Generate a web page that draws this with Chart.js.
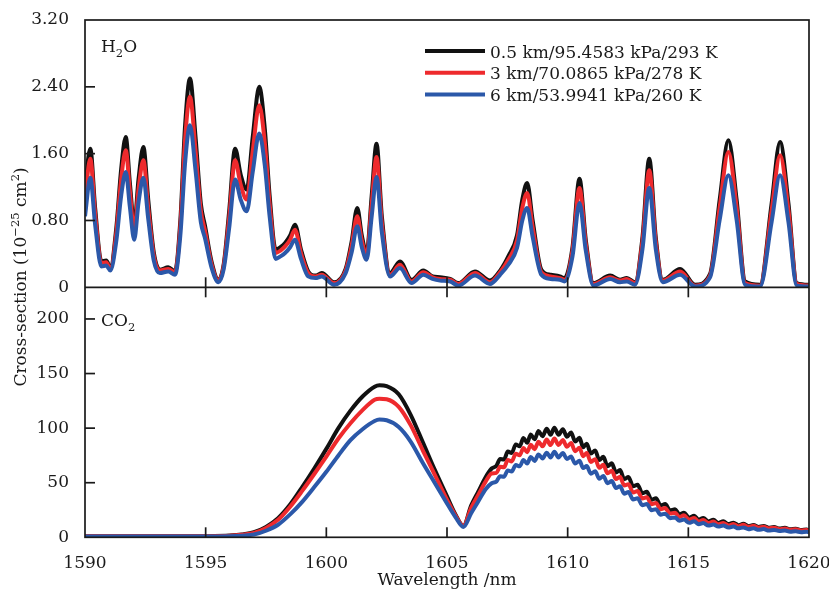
<!DOCTYPE html>
<html>
<head>
<meta charset="utf-8">
<title>Absorption cross-sections of H2O and CO2</title>
<script src="https://cdn.jsdelivr.net/npm/chart.js@4.4.1/dist/chart.umd.min.js"></script>
<style>
  html, body { margin: 0; padding: 0; background: #fff; }
  #box { width: 829px; height: 594px; }
</style>
</head>
<body>
<div id="box"><canvas id="chart" width="829" height="594"></canvas></div>
<script>
// altitude / pressure / temperature profiles
const profiles = ['0.5 km/95.4583 kPa/293 K', '3 km/70.0865 kPa/278 K', '6 km/53.9941 kPa/260 K'];
const profileColors = ['#111111', '#ee2a2d', '#2b58a9'];

const xTicks = [1590, 1595, 1600, 1605, 1610, 1615, 1620];
const h2oTicks = [0, 0.8, 1.6, 2.4, 3.2];
const co2Ticks = [0, 50, 100, 150, 200];

// H2O, 10^-25 cm^2
const h2oWavelength = [
    1590.00, 1590.22, 1590.42, 1590.68, 1590.88, 1591.05, 1591.30, 1591.50, 1591.69, 1591.86,
    1592.04, 1592.22, 1592.42, 1592.62, 1592.85, 1593.10, 1593.45, 1593.73, 1593.95, 1594.15,
    1594.35, 1594.58, 1594.80, 1594.97, 1595.25, 1595.53, 1595.75, 1595.97, 1596.22, 1596.45,
    1596.70, 1596.95, 1597.22, 1597.45, 1597.65, 1597.90, 1598.10, 1598.29, 1598.50, 1598.70,
    1598.95, 1599.25, 1599.55, 1599.81, 1600.32, 1600.80, 1601.05, 1601.28, 1601.47, 1601.67,
    1601.88, 1602.08, 1602.30, 1602.64, 1603.05, 1603.53, 1604.02, 1604.40, 1604.71, 1605.13,
    1605.47, 1606.16, 1606.78, 1607.20, 1607.54, 1607.90, 1608.12, 1608.32, 1608.55, 1608.91,
    1609.30, 1609.68, 1609.87, 1610.20, 1610.49, 1610.75, 1611.07, 1611.76, 1612.17, 1612.45,
    1612.79, 1613.10, 1613.38, 1613.65, 1613.94, 1614.66, 1615.28, 1615.90, 1616.30, 1616.66,
    1617.00, 1617.35, 1617.97, 1618.45, 1618.80, 1619.15, 1619.49, 1620.00
];
const h2oLow = [
    1.20, 1.66, 0.95, 0.31, 0.32, 0.24, 0.72, 1.42, 1.80, 1.25,
    0.75, 1.30, 1.68, 1.05, 0.42, 0.21, 0.24, 0.19, 0.80, 1.95,
    2.50, 1.80, 1.00, 0.74, 0.30, 0.09, 0.28, 0.90, 1.66, 1.35,
    1.17, 1.80, 2.40, 1.90, 1.10, 0.45, 0.48, 0.53, 0.62, 0.75,
    0.45, 0.19, 0.14, 0.17, 0.06, 0.22, 0.55, 0.95, 0.62, 0.41,
    1.10, 1.72, 0.85, 0.17, 0.31, 0.09, 0.20, 0.13, 0.12, 0.10,
    0.05, 0.19, 0.08, 0.20, 0.37, 0.62, 1.05, 1.25, 0.80, 0.21,
    0.15, 0.13, 0.11, 0.48, 1.30, 0.57, 0.05, 0.14, 0.09, 0.11,
    0.06, 0.60, 1.54, 0.60, 0.09, 0.22, 0.03, 0.16, 1.05, 1.76,
    1.05, 0.07, 0.03, 1.00, 1.74, 1.00, 0.05, 0.03
];
const h2oMid = [
    1.05, 1.54, 0.88, 0.29, 0.30, 0.22, 0.66, 1.30, 1.64, 1.15,
    0.68, 1.18, 1.52, 0.95, 0.38, 0.20, 0.22, 0.18, 0.73, 1.78,
    2.28, 1.64, 0.92, 0.68, 0.27, 0.08, 0.26, 0.82, 1.52, 1.23,
    1.05, 1.63, 2.18, 1.73, 1.00, 0.41, 0.44, 0.49, 0.57, 0.69,
    0.41, 0.17, 0.13, 0.15, 0.05, 0.20, 0.50, 0.85, 0.56, 0.38,
    1.00, 1.56, 0.77, 0.15, 0.27, 0.07, 0.18, 0.12, 0.10, 0.09,
    0.04, 0.17, 0.06, 0.18, 0.33, 0.56, 0.95, 1.13, 0.72, 0.18,
    0.13, 0.11, 0.09, 0.44, 1.19, 0.52, 0.04, 0.12, 0.08, 0.10,
    0.05, 0.55, 1.40, 0.55, 0.08, 0.19, 0.02, 0.14, 0.96, 1.62,
    0.96, 0.05, 0.02, 0.92, 1.58, 0.92, 0.04, 0.02
];
const h2oHigh = [
    0.85, 1.31, 0.75, 0.25, 0.26, 0.20, 0.56, 1.10, 1.38, 0.96,
    0.57, 1.02, 1.31, 0.82, 0.32, 0.17, 0.19, 0.15, 0.62, 1.50,
    1.94, 1.40, 0.78, 0.59, 0.23, 0.06, 0.22, 0.70, 1.29, 1.05,
    0.91, 1.38, 1.84, 1.46, 0.85, 0.34, 0.37, 0.41, 0.48, 0.57,
    0.34, 0.13, 0.11, 0.13, 0.03, 0.17, 0.42, 0.73, 0.48, 0.33,
    0.85, 1.32, 0.66, 0.13, 0.23, 0.05, 0.15, 0.10, 0.08, 0.07,
    0.02, 0.14, 0.04, 0.15, 0.27, 0.47, 0.80, 0.95, 0.60, 0.15,
    0.10, 0.09, 0.07, 0.37, 1.01, 0.44, 0.02, 0.10, 0.06, 0.07,
    0.03, 0.46, 1.19, 0.46, 0.06, 0.15, 0.01, 0.12, 0.81, 1.34,
    0.81, 0.03, 0.01, 0.78, 1.34, 0.78, 0.02, 0.01
];

// CO2, 10^-25 cm^2
const co2Wavelength = [
    1590.0, 1592.0, 1594.0, 1595.0, 1596.0, 1596.5, 1597.0, 1597.5, 1598.0, 1598.5,
    1599.0, 1599.5, 1600.0, 1600.5, 1601.0, 1601.5, 1602.0, 1602.2, 1602.5, 1603.0,
    1603.5, 1604.0, 1604.5, 1605.0, 1605.35, 1605.68, 1606.0, 1606.3, 1606.6, 1606.85,
    1607.05, 1607.20, 1607.36, 1607.52, 1607.68, 1607.85, 1608.01, 1608.17, 1608.32, 1608.47,
    1608.63, 1608.79, 1608.96, 1609.13, 1609.29, 1609.45, 1609.62, 1609.80, 1609.97, 1610.14,
    1610.31, 1610.49, 1610.64, 1610.79, 1610.96, 1611.14, 1611.31, 1611.48, 1611.65, 1611.83,
    1612.00, 1612.17, 1612.34, 1612.52, 1612.71, 1612.90, 1613.09, 1613.28, 1613.47, 1613.66,
    1613.85, 1614.04, 1614.24, 1614.45, 1614.63, 1614.82, 1615.03, 1615.24, 1615.43, 1615.62,
    1615.83, 1616.04, 1616.24, 1616.45, 1616.66, 1616.87, 1617.07, 1617.28, 1617.49, 1617.70,
    1617.91, 1618.12, 1618.33, 1618.55, 1618.77, 1619.00, 1619.22, 1619.45, 1619.67, 1619.90,
    1620.0
];
const co2Low = [
    1.0, 0.9, 0.9, 1.0, 1.6, 2.6, 4.6, 9.5, 17.5, 30.0,
    46.0, 63.0, 81.0, 100.0, 116.0, 129.0, 138.0, 139.3, 138.5, 131.0,
    112.0, 87.0, 61.5, 37.5, 21.0, 10.5, 29.0, 42.0, 55.0, 63.0,
    65.5, 71.8, 71.2, 78.6, 77.2, 85.0, 83.4, 90.9, 86.5, 94.2,
    89.7, 97.3, 92.6, 99.4, 93.9, 100.4, 93.9, 99.0, 92.1, 96.0,
    87.7, 91.1, 82.5, 85.8, 76.7, 79.6, 70.7, 73.8, 65.1, 67.8,
    59.3, 61.6, 53.3, 55.2, 46.7, 48.2, 40.3, 41.7, 34.4, 35.8,
    29.2, 30.4, 24.7, 25.6, 21.0, 22.5, 18.0, 19.7, 16.1, 17.7,
    14.5, 16.0, 13.2, 14.6, 12.1, 13.4, 11.1, 12.3, 10.2, 11.3,
    9.5, 10.4, 8.7, 9.5, 8.0, 8.7, 7.3, 7.9, 6.7, 7.2,
    6.6
];
const co2Mid = [
    1.0, 0.9, 0.9, 1.0, 1.4, 2.3, 4.0, 8.6, 16.0, 28.0,
    42.5, 58.0, 74.0, 90.5, 104.5, 116.5, 126.0, 127.0, 126.5, 119.5,
    102.5, 79.5, 57.0, 34.5, 20.0, 10.5, 27.0, 39.0, 51.0, 58.5,
    59.0, 64.6, 64.1, 70.7, 69.5, 76.5, 75.1, 81.8, 77.9, 84.8,
    80.7, 87.6, 83.3, 89.5, 84.5, 90.4, 84.5, 89.1, 82.9, 86.4,
    78.9, 82.0, 74.3, 77.2, 69.0, 71.6, 63.6, 66.4, 58.6, 61.0,
    53.4, 55.4, 47.5, 48.6, 41.1, 42.4, 35.5, 36.7, 30.3, 31.5,
    25.7, 26.8, 21.7, 22.5, 18.6, 20.2, 16.2, 17.7, 14.5, 15.9,
    13.1, 14.4, 11.9, 13.1, 10.9, 12.1, 10.0, 11.4, 9.5, 10.5,
    8.8, 9.7, 8.1, 8.8, 7.4, 8.1, 6.8, 7.3, 6.2, 6.7,
    6.1
];
const co2High = [
    0.8, 0.7, 0.7, 0.8, 1.0, 1.5, 2.5, 6.0, 11.5, 21.0,
    32.5, 46.0, 60.0, 75.0, 89.0, 99.0, 106.5, 107.8, 107.2, 101.0,
    87.5, 68.0, 49.5, 31.0, 18.5, 9.5, 22.0, 33.0, 44.0, 49.5,
    51.1, 56.0, 55.5, 61.3, 60.2, 66.3, 65.0, 70.9, 67.5, 73.5,
    70.0, 75.9, 72.2, 77.5, 73.2, 78.3, 73.2, 77.2, 71.8, 73.9,
    67.5, 70.1, 63.5, 65.2, 58.3, 60.5, 53.7, 56.1, 49.5, 51.5,
    45.1, 46.8, 40.0, 41.4, 34.6, 35.7, 29.4, 30.4, 24.8, 25.8,
    20.7, 21.6, 17.5, 18.2, 15.1, 16.2, 13.3, 14.6, 11.9, 13.1,
    10.7, 11.8, 9.8, 10.8, 8.9, 9.9, 8.2, 9.0, 7.4, 8.2,
    6.9, 7.5, 6.2, 6.8, 5.7, 6.2, 5.1, 5.5, 4.7, 5.0,
    4.6
];

const FONT = 'DejaVu Serif';
const INK = '#1a1a1a';
const BIG = 17;
const SMALL = 11.5;

function series(xs, ys) {
    return xs.map((x, i) => ({ x, y: ys[i] }));
}

function makeDataset(k, xs, ys, axis) {
    return {
        label: profiles[k],
        data: series(xs, ys),
        yAxisID: axis,
        borderColor: profileColors[k],
        backgroundColor: profileColors[k],
        borderWidth: 4,
        pointRadius: 0,
        fill: false,
        cubicInterpolationMode: 'monotone',
        order: 2 - k // blue on top, black underneath
    };
}

// draws a run of text pieces, some raised or lowered, starting at x
function drawPieces(ctx, pieces, x, y) {
    pieces.forEach(p => {
        ctx.font = (p.small ? SMALL : BIG) + 'px ' + FONT;
        ctx.fillText(p.text, x, y + (p.shift || 0));
        x += ctx.measureText(p.text).width;
    });
}

function piecesWidth(ctx, pieces) {
    return pieces.reduce((w, p) => {
        ctx.font = (p.small ? SMALL : BIG) + 'px ' + FONT;
        return w + ctx.measureText(p.text).width;
    }, 0);
}

const panelDecor = {
    id: 'panelDecor',
    afterDraw(chart) {
        const { ctx, chartArea: a, scales } = chart;
        const xs = scales.x, yTop = scales.yH2O, yBot = scales.yCO2;
        const mid = yTop.bottom;

        ctx.save();
        ctx.strokeStyle = INK;
        ctx.lineWidth = 1.7;
        ctx.lineCap = 'butt';
        const seg = (x1, y1, x2, y2) => {
            ctx.beginPath();
            ctx.moveTo(x1, y1);
            ctx.lineTo(x2, y2);
            ctx.stroke();
        };

        // frames of both panels
        ctx.strokeRect(a.left, a.top, a.right - a.left, a.bottom - a.top);
        seg(a.left, mid, a.right, mid);

        // tick marks, drawn inward
        xTicks.slice(1, -1).forEach(v => {
            const px = xs.getPixelForValue(v);
            seg(px, mid - 10, px, mid + 10);
            seg(px, a.bottom - 10, px, a.bottom);
        });
        h2oTicks.slice(1, -1).forEach(v => {
            const py = yTop.getPixelForValue(v);
            seg(a.left, py, a.left + 10, py);
        });
        co2Ticks.slice(1).forEach(v => {
            const py = yBot.getPixelForValue(v);
            seg(a.left, py, a.left + 10, py);
        });

        ctx.fillStyle = INK;
        ctx.textBaseline = 'alphabetic';
        ctx.textAlign = 'left';

        // panel names
        drawPieces(ctx, [{ text: 'H' }, { text: '2', small: true, shift: 5 }, { text: 'O' }], a.left + 16, a.top + 32);
        drawPieces(ctx, [{ text: 'CO' }, { text: '2', small: true, shift: 5 }], a.left + 16, yBot.top + 39);

        // legend
        profiles.forEach((name, k) => {
            const ly = 51 + k * 21.7;
            ctx.strokeStyle = profileColors[k];
            ctx.lineWidth = 4;
            seg(425, ly, 485, ly);
            ctx.font = BIG + 'px ' + FONT;
            ctx.fillText(name, 490, ly + 6.5);
        });

        // shared y title
        const title = [
            { text: 'Cross-section (10' },
            { text: '\u221225', small: true, shift: -7 },
            { text: ' cm' },
            { text: '2', small: true, shift: -7 },
            { text: ')' }
        ];
        ctx.translate(20, 277);
        ctx.rotate(-Math.PI / 2);
        drawPieces(ctx, title, -piecesWidth(ctx, title) / 2, 6);
        ctx.restore();
    }
};

const tickFont = { family: FONT, size: BIG };

new Chart(document.getElementById('chart'), {
    type: 'line',
    data: {
        datasets: [
            makeDataset(0, h2oWavelength, h2oLow, 'yH2O'),
            makeDataset(1, h2oWavelength, h2oMid, 'yH2O'),
            makeDataset(2, h2oWavelength, h2oHigh, 'yH2O'),
            makeDataset(0, co2Wavelength, co2Low, 'yCO2'),
            makeDataset(1, co2Wavelength, co2Mid, 'yCO2'),
            makeDataset(2, co2Wavelength, co2High, 'yCO2')
        ]
    },
    options: {
        responsive: false,
        devicePixelRatio: 1,
        animation: false,
        events: [],
        layout: { padding: { top: 20, right: 20, left: 0, bottom: 0 } },
        plugins: {
            legend: { display: false },
            tooltip: { enabled: false }
        },
        scales: {
            x: {
                type: 'linear',
                min: 1590,
                max: 1620,
                afterBuildTicks: s => { s.ticks = xTicks.map(value => ({ value })); },
                afterFit: s => {
                    s.height = 56.7;
                    s.paddingLeft = 0;
                    s.paddingRight = 0;
                },
                grid: { display: false },
                border: { display: false },
                ticks: {
                    font: tickFont, color: INK, padding: 8,
                    autoSkip: false, maxRotation: 0,
                    callback: v => String(v)
                },
                title: {
                    display: true, text: 'Wavelength /nm',
                    font: tickFont, color: INK,
                    padding: { top: 0, bottom: 3 }
                }
            },
            yCO2: {
                type: 'linear',
                position: 'left',
                stack: 'panels',
                stackWeight: 250,
                min: 0,
                max: 229,
                afterBuildTicks: s => { s.ticks = co2Ticks.map(value => ({ value })); },
                afterFit: s => { s.width = 85; },
                grid: { display: false },
                border: { display: false },
                ticks: { font: tickFont, color: INK, padding: 8, callback: v => String(v) }
            },
            yH2O: {
                type: 'linear',
                position: 'left',
                stack: 'panels',
                stackWeight: 267.3,
                min: 0,
                max: 3.2,
                afterBuildTicks: s => { s.ticks = h2oTicks.map(value => ({ value })); },
                afterFit: s => { s.width = 85; },
                grid: { display: false },
                border: { display: false },
                ticks: {
                    font: tickFont, color: INK, padding: 8,
                    callback: v => (v === 0 ? '0' : v.toFixed(2))
                }
            }
        }
    },
    plugins: [panelDecor]
});
</script>
</body>
</html>
